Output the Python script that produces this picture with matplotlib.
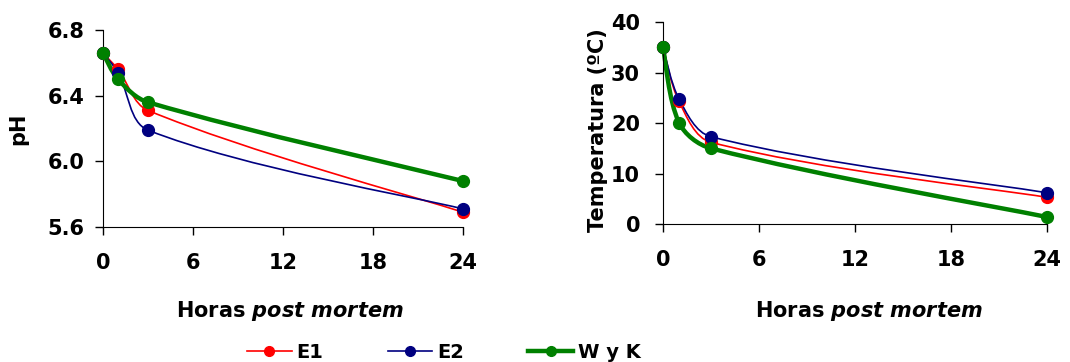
import matplotlib
matplotlib.use('Agg')
import matplotlib.pyplot as plt
import numpy as np
from matplotlib.path import Path
from matplotlib.patches import PathPatch
from matplotlib.lines import Line2D

# texto en negrita, tipo Excel
plt.rcParams['font.family'] = ['DejaVu Sans']
plt.rcParams['font.weight'] = 'bold'
plt.rcParams['mathtext.fontset'] = 'custom'
plt.rcParams['mathtext.bfit'] = 'DejaVu Sans:italic:bold'
plt.rcParams['mathtext.rm'] = 'DejaVu Sans:bold'

# datos
horas = [0, 1, 3, 24]
ph_e1 = [6.66, 6.56, 6.31, 5.69]
ph_e2 = [6.66, 6.54, 6.19, 5.71]
ph_wk = [6.66, 6.50, 6.36, 5.88]
temp_e1 = [35.0, 24.3, 16.2, 5.3]
temp_e2 = [35.0, 24.8, 17.3, 6.2]
temp_wk = [35.0, 20.1, 15.0, 1.4]

series = ['E1', 'E2', 'W y K']
colors = ['#FF0000', '#000080', '#008000']
widths = [1.2, 1.2, 3.2]


def smooth_path(x, y, sx, sy):
    # linea suavizada (Bezier cubica, como Excel), calculada en escala de pixeles
    p = np.column_stack([np.asarray(x, float) * sx, np.asarray(y, float) * sy])
    n = len(p)
    verts = [p[0]]
    codes = [Path.MOVETO]
    for i in range(n - 1):
        p0 = p[i - 1] if i > 0 else p[i]
        p1, p2 = p[i], p[i + 1]
        p3 = p[i + 2] if i + 2 < n else p[i + 1]
        d0 = np.linalg.norm(p1 - p0)
        d1 = np.linalg.norm(p2 - p1)
        d2 = np.linalg.norm(p3 - p2)
        f1 = d1 / (d0 + d1) if d0 > 0 else 0.5
        f2 = d1 / (d1 + d2) if d2 > 0 else 0.5
        c1 = p1 + (p2 - p0) * f1 / 3
        c2 = p2 - (p3 - p1) * f2 / 3
        verts += [c1, c2, p2]
        codes += [Path.CURVE4] * 3
    v = np.array(verts)
    v[:, 0] /= sx
    v[:, 1] /= sy
    return Path(v, codes)


fig = plt.figure(figsize=(10.7, 3.62), dpi=100)
ax1 = fig.add_axes([0.0963, 0.373, 0.3364, 0.544])
ax2 = fig.add_axes([0.6196, 0.381, 0.3589, 0.558])


def draw(ax, ys, sx, sy, ypad):
    for yv, c, lw in zip(ys, colors, widths):
        patch = PathPatch(smooth_path(horas, yv, sx, sy), fill=False,
                          edgecolor=c, lw=lw, clip_on=False, capstyle='round')
        ax.add_patch(patch)
        ax.plot(horas, yv, 'o', color=c, ms=8.5, clip_on=False, zorder=3)
    ax.set_xlim(0, 24)
    ax.set_xticks([0, 6, 12, 18, 24])
    for s in ['top', 'right']:
        ax.spines[s].set_visible(False)
    ax.tick_params(direction='out', length=5.5, width=1, labelsize=15)
    ax.tick_params(axis='x', pad=13)
    ax.tick_params(axis='y', pad=ypad)
    for lab in ax.get_xticklabels() + ax.get_yticklabels():
        lab.set_fontweight('bold')
    ax.set_xlabel(r'Horas $\mathbfit{post\ mortem}$', fontsize=15,
                  fontweight='bold', va='top')


draw(ax1, [ph_e1, ph_e2, ph_wk], 360 / 24, 197 / 1.2, 8)
ax1.set_ylim(5.6, 6.8)
ax1.set_yticks([5.6, 6.0, 6.4, 6.8])
ax1.set_yticklabels(['5.6', '6.0', '6.4', '6.8'])
ax1.set_ylabel('pH', fontsize=15, fontweight='bold')
ax1.yaxis.set_label_coords(-0.208, 0.5)
ax1.xaxis.set_label_coords(0.519, -0.365)

draw(ax2, [temp_e1, temp_e2, temp_wk], 384 / 24, 202 / 40, 11)
ax2.set_ylim(0, 40)
ax2.set_yticks([0, 10, 20, 30, 40])
ax2.set_ylabel('Temperatura (ºC)', fontsize=15, fontweight='bold')
ax2.yaxis.set_label_coords(-0.143, 0.465)
ax2.xaxis.set_label_coords(0.536, -0.371)

handles = [Line2D([0], [0], color=c, lw=lw, marker='o', ms=7)
           for c, lw in zip(colors, widths)]
fig.legend(handles, series, loc='center left', bbox_to_anchor=(0.2308, 0.0276),
           ncol=3, frameon=False, fontsize=14, handlelength=2.3,
           columnspacing=3.3, handletextpad=0.25, borderpad=0, borderaxespad=0)

fig.savefig('out.png', dpi=100)
